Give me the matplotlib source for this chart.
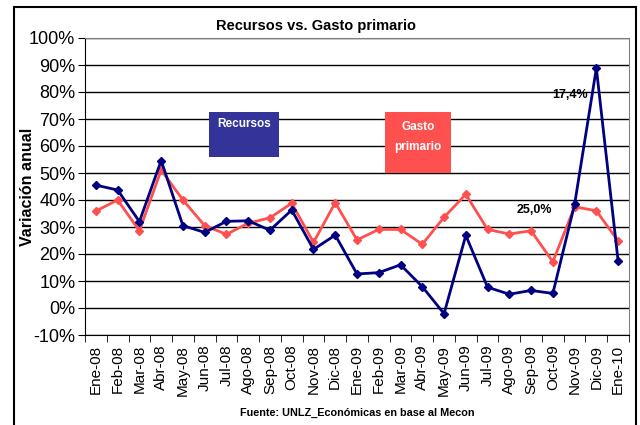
import numpy as np
from matplotlib import pyplot as plt
from matplotlib.patches import Rectangle
from matplotlib.ticker import FuncFormatter, MultipleLocator

meses = ['Ene-08', 'Feb-08', 'Mar-08', 'Abr-08', 'May-08', 'Jun-08', 'Jul-08', 'Ago-08',
         'Sep-08', 'Oct-08', 'Nov-08', 'Dic-08', 'Ene-09', 'Feb-09', 'Mar-09', 'Abr-09',
         'May-09', 'Jun-09', 'Jul-09', 'Ago-09', 'Sep-09', 'Oct-09', 'Nov-09', 'Dic-09',
         'Ene-10']
recursos = [45.5, 43.7, 32.0, 54.6, 30.5, 28.0, 32.1, 32.3, 28.8, 36.3, 21.7, 27.0, 12.6,
            13.1, 16.0, 7.9, -2.1, 26.9, 7.7, 5.1, 6.5, 5.4, 38.4, 88.8, 17.4]
gasto = [35.9, 40.0, 28.6, 51.1, 40.0, 30.5, 27.3, 31.4, 33.4, 38.8, 24.3, 39.0, 25.2,
         29.1, 29.1, 23.6, 33.6, 42.1, 29.1, 27.4, 28.6, 17.1, 37.5, 36.0, 24.8]

NAVY = '#000080'
RED = '#FF5050'
plt.rcParams['font.family'] = ['Liberation Sans', 'DejaVu Sans']

W, H = 640, 425
fig = plt.figure(figsize=(6.4, 4.25), dpi=100)


def box(x, y, w, h):
    # pixel box (top-left origin) -> figure fraction rect
    return x / W, 1 - (y + h) / H, w / W, h / H


ax = fig.add_axes(box(85, 38, 544, 297))
x = np.arange(len(meses))

ax.plot(x, gasto, color=RED, lw=2, marker='D', ms=4.5, zorder=3)
ax.plot(x, recursos, color=NAVY, lw=2, marker='D', ms=4.5, zorder=4)

ax.set_xlim(-0.5, len(meses) - 0.5)
ax.set_ylim(-10, 100)
ax.yaxis.set_major_locator(MultipleLocator(10))
ax.yaxis.set_major_formatter(FuncFormatter(lambda v, p: f'{v:.0f}%'))
ax.grid(True, axis='y', color='black', lw=1)
ax.set_axisbelow(True)

ax.set_xticks(x)
ax.set_xticklabels(meses, rotation=90, fontsize=11)
ax.set_xticks(np.arange(-0.5, len(meses)), minor=True)
ax.tick_params(axis='x', which='major', length=0, pad=7)
ax.tick_params(axis='x', which='minor', length=5, color='black')
ax.tick_params(axis='y', labelsize=13, length=5, color='black', pad=2)

for s in ['top', 'right']:
    ax.spines[s].set_color('#808080')
for s in ['left', 'bottom']:
    ax.spines[s].set_color('black')

ax.set_ylabel('Variación anual', fontsize=11.5, fontweight='bold')
ax.yaxis.set_label_coords(-0.092, 0.5)

ax.text(21.8, 79, '17,4%', ha='center', va='center', fontsize=9, fontweight='bold')
ax.text(20.15, 36.3, '25,0%', ha='center', va='center', fontsize=9, fontweight='bold')

# legend boxes
fig.add_artist(Rectangle(box(209, 112, 70, 45)[:2], 70 / W, 45 / H,
                         transform=fig.transFigure, facecolor='#333399', edgecolor='none'))
fig.add_artist(Rectangle(box(385, 112, 66, 61)[:2], 66 / W, 61 / H,
                         transform=fig.transFigure, facecolor=RED, edgecolor='none'))
fig.text(244 / W, 1 - 124 / H, 'Recursos', color='white', fontsize=8.5, fontweight='bold',
         ha='center', va='center')
fig.text(418 / W, 1 - 137 / H, 'Gasto\nprimario', color='white', fontsize=8.5,
         fontweight='bold', ha='center', va='center', linespacing=1.9)

fig.text(316 / W, 1 - 26 / H, 'Recursos vs. Gasto primario', fontsize=10.5,
         fontweight='bold', ha='center', va='center')
fig.text(357 / W, 1 - 413 / H, 'Fuente: UNLZ_Económicas en base al Mecon', fontsize=7.8,
         fontweight='bold', ha='center', va='center')

# outer frame
fig.add_artist(Rectangle((14 / W, -0.01), 622 / W, 1 - 7 / H + 0.01,
                         transform=fig.transFigure, facecolor='none', edgecolor='black',
                         lw=1.5))

fig.savefig('out.png', dpi=100)
